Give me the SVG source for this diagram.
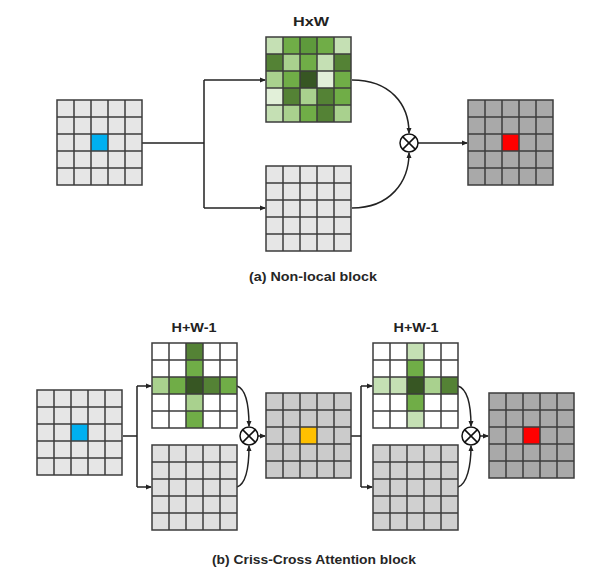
<svg xmlns="http://www.w3.org/2000/svg" xmlns:xlink="http://www.w3.org/1999/xlink" width="606" height="583" viewBox="0 0 606 583">
<style>
.lbl{font-family:"Liberation Sans",Arial,sans-serif;font-weight:bold;font-size:13px;fill:#222;text-anchor:middle}
.cap{font-family:"Liberation Sans",Arial,sans-serif;font-weight:bold;font-size:13px;fill:#262626;text-anchor:middle}
.con{fill:none;stroke:#222;stroke-width:1.5}
.arr{marker-end:url(#ah)}
.mul{fill:#fff;stroke:#111;stroke-width:1.5}
.g0{fill:#e2f0d9}.g1{fill:#c5e0b4}.g2{fill:#a9d18e}.g3{fill:#70ad47}.g4{fill:#548235}.g5{fill:#375623}
</style>
<defs>
<path id="gl" d="M0,0H85V85H0Z M17,0V85 M34,0V85 M51,0V85 M68,0V85 M0,17H85 M0,34H85 M0,51H85 M0,68H85" fill="none" stroke="#3c3c3c" stroke-width="1.5"/>
<marker id="ah" markerWidth="6" markerHeight="6" refX="5" refY="3" orient="auto" markerUnits="userSpaceOnUse"><path d="M0,0.5L6,3L0,5.5Z" fill="#222"/></marker>
<g id="mulsym"><circle r="9" class="mul"/><path d="M-6.4,-6.4L6.4,6.4M6.4,-6.4L-6.4,6.4" stroke="#111" stroke-width="1.5"/></g>
</defs>

<g id="connectors">
<path class="con" d="M142,143H204M204,80V208"/>
<path class="con arr" d="M204,80H265"/>
<path class="con arr" d="M204,208H265"/>
<path class="con arr" d="M352,80C390,80 409,104 409,133"/>
<path class="con arr" d="M352,208C390,208 409,182 409,153"/>
<path class="con arr" d="M418,143H467"/>
<path class="con" d="M123,436H137M137,386V487"/>
<path class="con arr" d="M137,386H151"/>
<path class="con arr" d="M137,487H151"/>
<path class="con arr" d="M237,386C246,389 249,405 249,426"/>
<path class="con arr" d="M237,487C246,484 249,466 249,446"/>
<path class="con arr" d="M258,436H265"/>
<path class="con" d="M351,436H361M361,386V487"/>
<path class="con arr" d="M361,386H372"/>
<path class="con arr" d="M361,487H372"/>
<path class="con arr" d="M458,386C467,389 471,405 471,426"/>
<path class="con arr" d="M458,487C467,484 471,466 471,446"/>
<path class="con arr" d="M480,436H488"/>
</g>

<g id="mul-a" transform="translate(409,143)"><use xlink:href="#mulsym"/></g>
<g id="mul-b1" transform="translate(249,436)"><use xlink:href="#mulsym"/></g>
<g id="mul-b2" transform="translate(471,436)"><use xlink:href="#mulsym"/></g>

<g id="a-input" transform="translate(57,100)">
<rect width="85" height="85" fill="#e6e6e6"/>
<rect x="34" y="34" width="17" height="17" fill="#00b0f0"/>
<use xlink:href="#gl"/>
</g>

<g id="a-attention" transform="translate(266,37)">
<rect class="g1" x="0" y="0" width="17" height="17"/><rect class="g3" x="17" y="0" width="17" height="17"/><rect class="g4" x="34" y="0" width="17" height="17" style="fill:#5e9a3c"/><rect class="g3" x="51" y="0" width="17" height="17"/><rect class="g1" x="68" y="0" width="17" height="17"/>
<rect class="g4" x="0" y="17" width="17" height="17"/><rect class="g2" x="17" y="17" width="17" height="17"/><rect class="g3" x="34" y="17" width="17" height="17"/><rect class="g1" x="51" y="17" width="17" height="17"/><rect class="g4" x="68" y="17" width="17" height="17"/>
<rect class="g2" x="0" y="34" width="17" height="17"/><rect class="g3" x="17" y="34" width="17" height="17"/><rect class="g5" x="34" y="34" width="17" height="17"/><rect class="g0" x="51" y="34" width="17" height="17"/><rect class="g3" x="68" y="34" width="17" height="17"/>
<rect class="g0" x="0" y="51" width="17" height="17"/><rect class="g4" x="17" y="51" width="17" height="17"/><rect class="g2" x="34" y="51" width="17" height="17"/><rect class="g4" x="51" y="51" width="17" height="17"/><rect class="g3" x="68" y="51" width="17" height="17"/>
<rect class="g1" x="0" y="68" width="17" height="17"/><rect class="g2" x="17" y="68" width="17" height="17"/><rect class="g3" x="34" y="68" width="17" height="17"/><rect class="g4" x="51" y="68" width="17" height="17"/><rect class="g2" x="68" y="68" width="17" height="17"/>
<use xlink:href="#gl"/>
</g>
<text id="lbl-hxw" class="lbl" x="311" y="26" textLength="36" lengthAdjust="spacingAndGlyphs">HxW</text>

<g id="a-value" transform="translate(266,166)">
<rect width="85" height="85" fill="#e6e6e6"/>
<use xlink:href="#gl"/>
</g>

<g id="a-output" transform="translate(468,100)">
<rect width="85" height="85" fill="#a9a9a9"/>
<rect x="34" y="34" width="17" height="17" fill="#ff0000"/>
<use xlink:href="#gl"/>
</g>

<text id="cap-a" class="cap" x="313" y="281" textLength="128" lengthAdjust="spacingAndGlyphs">(a) Non-local block</text>

<g id="b-input" transform="translate(37,390)">
<rect width="85" height="85" fill="#e6e6e6"/>
<rect x="34" y="34" width="17" height="17" fill="#00b0f0"/>
<use xlink:href="#gl"/>
</g>

<g id="b-cross1" transform="translate(152,343)">
<rect width="85" height="85" fill="#ffffff"/>
<rect class="g4" x="34" y="0" width="17" height="17"/>
<rect class="g3" x="34" y="17" width="17" height="17"/>
<rect class="g2" x="0" y="34" width="17" height="17"/><rect class="g3" x="17" y="34" width="17" height="17"/><rect class="g5" x="34" y="34" width="17" height="17"/><rect class="g4" x="51" y="34" width="17" height="17"/><rect class="g3" x="68" y="34" width="17" height="17"/>
<rect class="g2" x="34" y="51" width="17" height="17"/>
<rect class="g3" x="34" y="68" width="17" height="17"/>
<use xlink:href="#gl"/>
</g>
<text id="lbl-hw1" class="lbl" x="194" y="332" textLength="45" lengthAdjust="spacingAndGlyphs">H+W-1</text>

<g id="b-value1" transform="translate(152,445)">
<rect width="85" height="85" fill="#e0e0e0"/>
<use xlink:href="#gl"/>
</g>

<g id="b-mid" transform="translate(266,393)">
<rect width="85" height="85" fill="#cbcbcb"/>
<rect x="34" y="34" width="17" height="17" fill="#ffc000"/>
<use xlink:href="#gl"/>
</g>

<g id="b-cross2" transform="translate(373,343)">
<rect width="85" height="85" fill="#ffffff"/>
<rect class="g1" x="34" y="0" width="17" height="17"/>
<rect class="g3" x="34" y="17" width="17" height="17"/>
<rect class="g1" x="0" y="34" width="17" height="17"/><rect class="g1" x="17" y="34" width="17" height="17"/><rect class="g5" x="34" y="34" width="17" height="17"/><rect class="g2" x="51" y="34" width="17" height="17"/><rect class="g4" x="68" y="34" width="17" height="17"/>
<rect class="g3" x="34" y="51" width="17" height="17"/>
<rect class="g1" x="34" y="68" width="17" height="17"/>
<use xlink:href="#gl"/>
</g>
<text id="lbl-hw2" class="lbl" x="416" y="332" textLength="45" lengthAdjust="spacingAndGlyphs">H+W-1</text>

<g id="b-value2" transform="translate(373,445)">
<rect width="85" height="85" fill="#d0d0d0"/>
<use xlink:href="#gl"/>
</g>

<g id="b-output" transform="translate(489,393)">
<rect width="85" height="85" fill="#a9a9a9"/>
<rect x="34" y="34" width="17" height="17" fill="#ff0000"/>
<use xlink:href="#gl"/>
</g>

<text id="cap-b" class="cap" x="314" y="564" textLength="204" lengthAdjust="spacingAndGlyphs">(b) Criss-Cross Attention block</text>
</svg>
